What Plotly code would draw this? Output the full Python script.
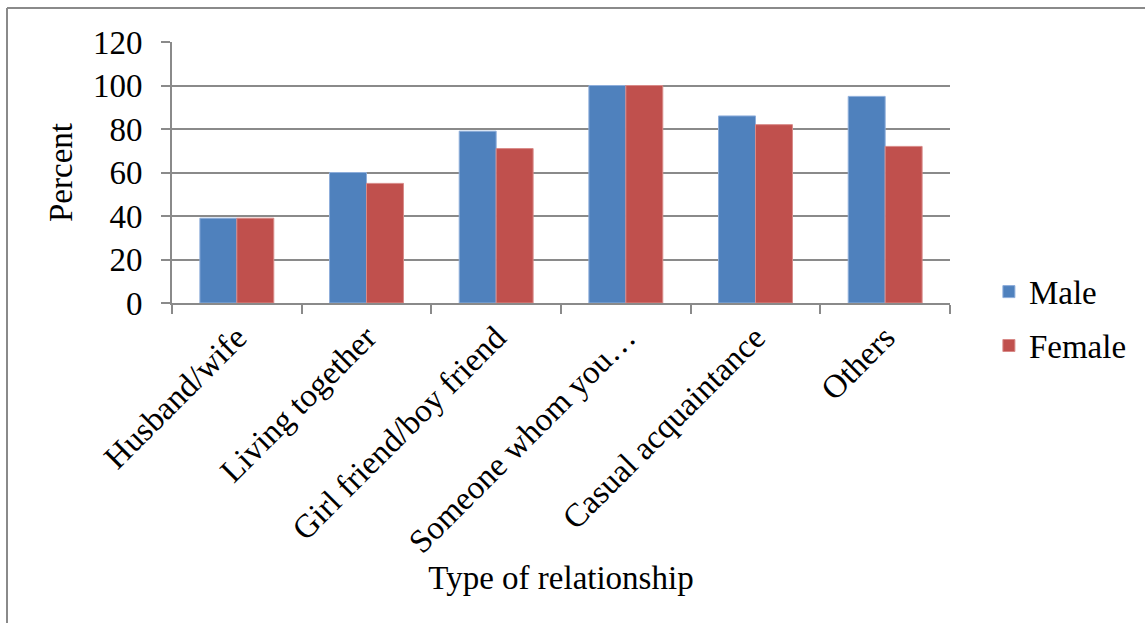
import plotly.graph_objects as go

categories = ["Husband/wife", "Living together", "Girl friend/boy friend",
              "Someone whom you…", "Casual acquaintance", "Others"]
male = [39, 60, 79, 100, 86, 95]
female = [39, 55, 71, 100, 82, 72]
y_ticks = [0, 20, 40, 60, 80, 100, 120]

FONT = "Liberation Serif"
GRAY = "#8a8a8a"
FS = 33

W, H = 1145, 623
L, R, T, B = 172, 195, 42, 320
pw, ph = W - L - R, H - T - B

fig = go.Figure()
fig.add_trace(go.Bar(name="Male", x=categories, y=male, marker_color="#4F81BD",
                     marker_line=dict(color="#8eaedb", width=1), legendgroup="m"))
fig.add_trace(go.Bar(name="Female", x=categories, y=female, marker_color="#C0504D",
                     marker_line=dict(color="#d88a88", width=1), legendgroup="f"))

def px_x(x):
    return (x - L) / pw

def px_y(y):
    return (H - B - y) / ph

fig.add_shape(type="line", xref="paper", yref="paper",
              x0=px_x(7), x1=px_x(W + 5), y0=px_y(8), y1=px_y(8),
              line=dict(color=GRAY, width=2))
fig.add_shape(type="line", xref="paper", yref="paper",
              x0=px_x(7), x1=px_x(7), y0=px_y(8), y1=px_y(H + 5),
              line=dict(color=GRAY, width=2))

fig.update_layout(
    width=W, height=H,
    margin=dict(l=L, r=R, t=T, b=B, autoexpand=False),
    paper_bgcolor="white", plot_bgcolor="white",
    barmode="group", bargap=0.43, bargroupgap=0,
    font=dict(family=FONT, size=FS, color="black"),
    showlegend=True,
    legend=dict(x=1.05, y=-0.06, xanchor="left", yanchor="middle",
                font=dict(family=FONT, size=FS, color="black"),
                tracegroupgap=8, bgcolor="rgba(0,0,0,0)"),
    xaxis=dict(
        tickangle=-45, tickson="boundaries", ticks="outside", ticklen=9,
        tickcolor=GRAY, tickwidth=2, showline=True, linecolor=GRAY, linewidth=2,
        showgrid=False, tickfont=dict(family=FONT, size=FS, color="black"),
        title=dict(text="Type of relationship",
                   font=dict(family=FONT, size=FS, color="black"), standoff=6),
    ),
    yaxis=dict(
        range=[0, 120], tickvals=y_ticks, ticks="outside", ticklen=9,
        tickcolor=GRAY, tickwidth=2, showline=True, linecolor=GRAY, linewidth=2,
        showgrid=True, gridcolor=GRAY, gridwidth=2, zeroline=False,
        tickfont=dict(family=FONT, size=FS, color="black"), ticklabelstandoff=12,
        title=dict(text="Percent", font=dict(family=FONT, size=FS, color="black"),
                   standoff=10),
    ),
)

fig.write_html("out.html")
